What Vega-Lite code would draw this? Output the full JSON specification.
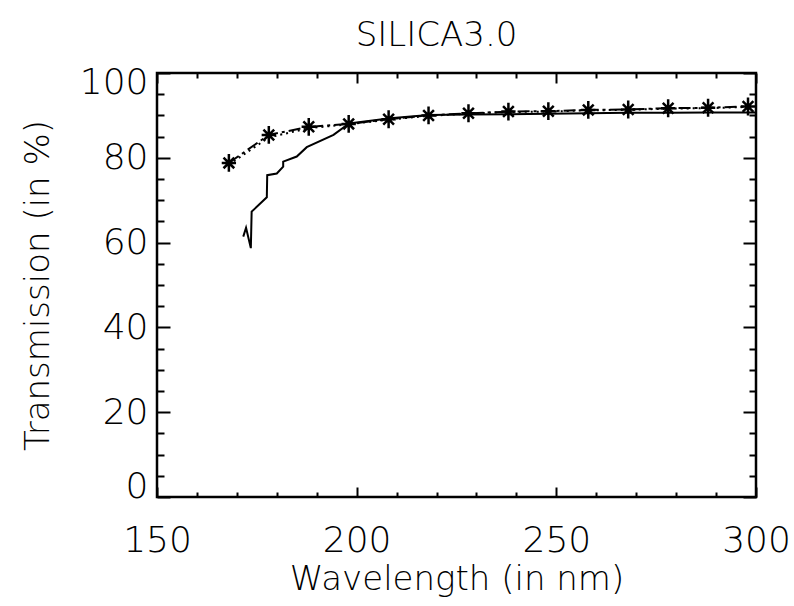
{
  "$schema": "https://vega.github.io/schema/vega-lite/v6.json",
  "width": 599,
  "height": 424,
  "autosize": "none",
  "padding": {"left": 157, "top": 73, "right": 38, "bottom": 109},
  "background": "white",
  "title": {"text": "SILICA3.0", "fontSize": 34, "font": "DejaVu Sans", "fontWeight": 200, "color": "black", "anchor": "middle", "offset": 11, "dx": -20},
  "config": {
    "view": {"stroke": "black", "strokeWidth": 2.5},
    "axis": {"domain": false, "grid": false, "tickColor": "black", "tickWidth": 2, "labelColor": "black", "titleColor": "black", "labelFont": "DejaVu Sans", "titleFont": "DejaVu Sans", "labelFontWeight": 200, "titleFontWeight": 200, "labelFontSize": 36, "titleFontSize": 34}
  },
  "datasets": {
    "solid": [
      {"x": 171.6, "y": 61.4}, {"x": 172.3, "y": 63.5}, {"x": 173.5, "y": 58.7}, {"x": 173.7, "y": 67.3},
      {"x": 177.5, "y": 70.7}, {"x": 177.6, "y": 75.9}, {"x": 180.0, "y": 76.3}, {"x": 181.6, "y": 77.9},
      {"x": 181.6, "y": 79.1}, {"x": 185.0, "y": 80.3}, {"x": 187.5, "y": 82.5}, {"x": 194.2, "y": 85.4},
      {"x": 198.1, "y": 88.1}, {"x": 208.4, "y": 89.3}, {"x": 218.0, "y": 90.1}, {"x": 228, "y": 90.2},
      {"x": 238, "y": 90.3}, {"x": 248, "y": 90.4}, {"x": 258, "y": 90.5}, {"x": 268, "y": 90.6},
      {"x": 278, "y": 90.6}, {"x": 288, "y": 90.7}, {"x": 300, "y": 90.7}
    ],
    "dotted": [
      {"x": 168, "y": 78.4}, {"x": 178, "y": 84.8}, {"x": 188, "y": 87.0}, {"x": 198, "y": 87.9},
      {"x": 208, "y": 89.0}, {"x": 218, "y": 89.9}, {"x": 228, "y": 90.4}, {"x": 238, "y": 90.8},
      {"x": 248, "y": 90.9}, {"x": 258, "y": 91.2}, {"x": 268, "y": 91.3}, {"x": 278, "y": 91.6},
      {"x": 288, "y": 91.7}, {"x": 298, "y": 92.0}
    ],
    "stars": [
      {"x": 168, "y": 78.8}, {"x": 178, "y": 85.4}, {"x": 188, "y": 87.3}, {"x": 198, "y": 88.0},
      {"x": 208, "y": 89.1}, {"x": 218, "y": 90.0}, {"x": 228, "y": 90.5}, {"x": 238, "y": 90.9},
      {"x": 248, "y": 91.0}, {"x": 258, "y": 91.3}, {"x": 268, "y": 91.4}, {"x": 278, "y": 91.7},
      {"x": 288, "y": 91.8}, {"x": 298, "y": 92.1}
    ]
  },
  "resolve": {"axis": {"x": "independent", "y": "independent"}},
  "layer": [
    {
      "data": {"name": "solid"},
      "mark": {"type": "line", "color": "black", "strokeWidth": 2, "clip": true},
      "encoding": {
        "x": {"field": "x", "type": "quantitative", "scale": {"domain": [150, 300], "nice": false, "zero": false},
          "axis": {"orient": "bottom", "values": [150, 200, 250, 300], "tickSize": -10, "labelPadding": 36, "labelDx": 5, "title": "Wavelength (in nm)", "titlePadding": 4, "labelFlush": false}},
        "y": {"field": "y", "type": "quantitative", "scale": {"domain": [0, 100], "nice": false},
          "axis": {"orient": "left", "values": [0, 20, 40, 60, 80, 100], "tickSize": -13, "labelPadding": 22, "labelFlush": true, "labelFlushOffset": 8, "title": "Transmission (in %)", "titlePadding": 24}}
      }
    },
    {
      "data": {"name": "dotted"},
      "mark": {"type": "line", "color": "black", "strokeWidth": 2, "strokeDash": [2, 4]},
      "encoding": {
        "x": {"field": "x", "type": "quantitative", "scale": {"domain": [150, 300], "nice": false, "zero": false},
          "axis": {"orient": "bottom", "values": [160, 170, 180, 190, 210, 220, 230, 240, 260, 270, 280, 290], "tickSize": -5, "labels": false, "title": null}},
        "y": {"field": "y", "type": "quantitative", "scale": {"domain": [0, 100], "nice": false},
          "axis": {"orient": "left", "values": [5, 10, 15, 25, 30, 35, 45, 50, 55, 65, 70, 75, 85, 90, 95], "tickSize": -7, "labels": false, "title": null}}
      }
    },
    {
      "data": {"name": "stars"},
      "mark": {"type": "line", "color": "black", "strokeWidth": 2, "strokeDash": [12, 4, 3, 4]},
      "encoding": {
        "x": {"field": "x", "type": "quantitative", "scale": {"domain": [150, 300], "nice": false, "zero": false},
          "axis": {"orient": "top", "values": [150, 200, 250, 300], "tickSize": -10, "labels": false, "title": null}},
        "y": {"field": "y", "type": "quantitative", "scale": {"domain": [0, 100], "nice": false},
          "axis": {"orient": "right", "values": [0, 20, 40, 60, 80, 100], "tickSize": -13, "labels": false, "title": null}}
      }
    },
    {
      "data": {"name": "stars"},
      "mark": {"type": "point", "shape": "M-0.8,0L0.8,0M0,-1L0,1M-0.6,-0.6L0.6,0.6M-0.6,0.6L0.6,-0.6", "filled": false, "color": "black", "strokeWidth": 2.5, "size": 320, "opacity": 1},
      "encoding": {
        "x": {"field": "x", "type": "quantitative", "scale": {"domain": [150, 300], "nice": false, "zero": false},
          "axis": {"orient": "top", "values": [160, 170, 180, 190, 210, 220, 230, 240, 260, 270, 280, 290], "tickSize": -5, "labels": false, "title": null}},
        "y": {"field": "y", "type": "quantitative", "scale": {"domain": [0, 100], "nice": false},
          "axis": {"orient": "right", "values": [5, 10, 15, 25, 30, 35, 45, 50, 55, 65, 70, 75, 85, 90, 95], "tickSize": -7, "labels": false, "title": null}}
      }
    }
  ]
}
